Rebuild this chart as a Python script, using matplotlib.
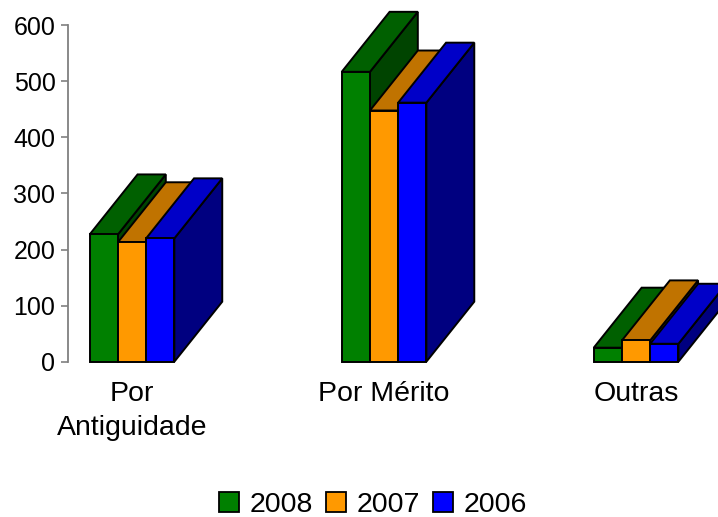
import numpy as np
import matplotlib
matplotlib.use('Agg')
import matplotlib.pyplot as plt
from matplotlib.patches import Polygon, Patch

# -----------------------------
# Data
# -----------------------------
categories = ['Por\nAntiguidade', 'Por Mérito', 'Outras']
years = ['2008', '2007', '2006']
v2008 = [227, 517, 25]
v2007 = [213, 448, 38]
v2006 = [220, 462, 32]
series = [v2008, v2007, v2006]

# front / top / side shades per year
front_cols = ['#008000', '#FF9900', '#0000FF']
top_cols = ['#006000', '#C07300', '#0000C8']
side_cols = ['#004400', '#7F4C00', '#000080']

# -----------------------------
# Layout
# -----------------------------
FIG_W_IN = 7.18
FIG_H_IN = 5.17
DPI = 100
bar_w = 0.112        # width of one column (category units)
depth_x = 0.19       # 3D depth, horizontal (category units)
depth_y = 107        # 3D depth, vertical (value units)
edge_lw = 1.4

plt.rcParams.update({
    'font.family': 'Liberation Sans',
    'font.size': 19,
})

fig = plt.figure(figsize=(FIG_W_IN, FIG_H_IN), dpi=DPI)
ax = fig.add_axes([0.0947, 0.3004, 0.9053, 0.6507])

idx = np.arange(len(categories))
z = 2
for i, vals in enumerate(series):
    lefts = idx + (i - 1) * bar_w - bar_w / 2
    for x0, h in zip(lefts, vals):
        x1 = x0 + bar_w
        # side face
        side = Polygon([(x1, 0), (x1 + depth_x, depth_y), (x1 + depth_x, h + depth_y), (x1, h)],
                       closed=True, facecolor=side_cols[i], edgecolor='black',
                       linewidth=edge_lw, clip_on=False, zorder=z)
        ax.add_patch(side)
        # top face
        top = Polygon([(x0, h), (x0 + depth_x, h + depth_y), (x1 + depth_x, h + depth_y), (x1, h)],
                      closed=True, facecolor=top_cols[i], edgecolor='black',
                      linewidth=edge_lw, clip_on=False, zorder=z)
        ax.add_patch(top)
        # front face
        ax.bar(x0, h, bar_w, align='edge', color=front_cols[i], edgecolor='black',
               linewidth=edge_lw, clip_on=False, zorder=z + 0.5)
        z += 1

ax.set_xlim(-0.254, 2.325)
ax.set_ylim(0, 600)
ax.set_yticks(range(0, 601, 100))

for s in ['top', 'right', 'bottom']:
    ax.spines[s].set_visible(False)
ax.spines['left'].set_color('#808080')
ax.spines['left'].set_linewidth(1.3)
ax.tick_params(axis='y', colors='#808080', labelcolor='black', labelsize=18,
               length=5, width=1.2, pad=4)

ax.set_xticks(idx)
ax.set_xticklabels(categories, linespacing=1.4, fontsize=20.5)
ax.tick_params(axis='x', length=0, pad=14)

handles = [Patch(facecolor=c, edgecolor='black', linewidth=1.3, label=y)
           for c, y in zip(front_cols, years)]
fig.legend(handles=handles, loc='center', bbox_to_anchor=(0.52, 1 - 505 / 517),
           ncol=3, frameon=False, fontsize=20.5, handlelength=0.68, handleheight=0.68,
           handletextpad=0.4, columnspacing=0.45, borderaxespad=0, borderpad=0.1)

fig.savefig('out.png', dpi=DPI)
